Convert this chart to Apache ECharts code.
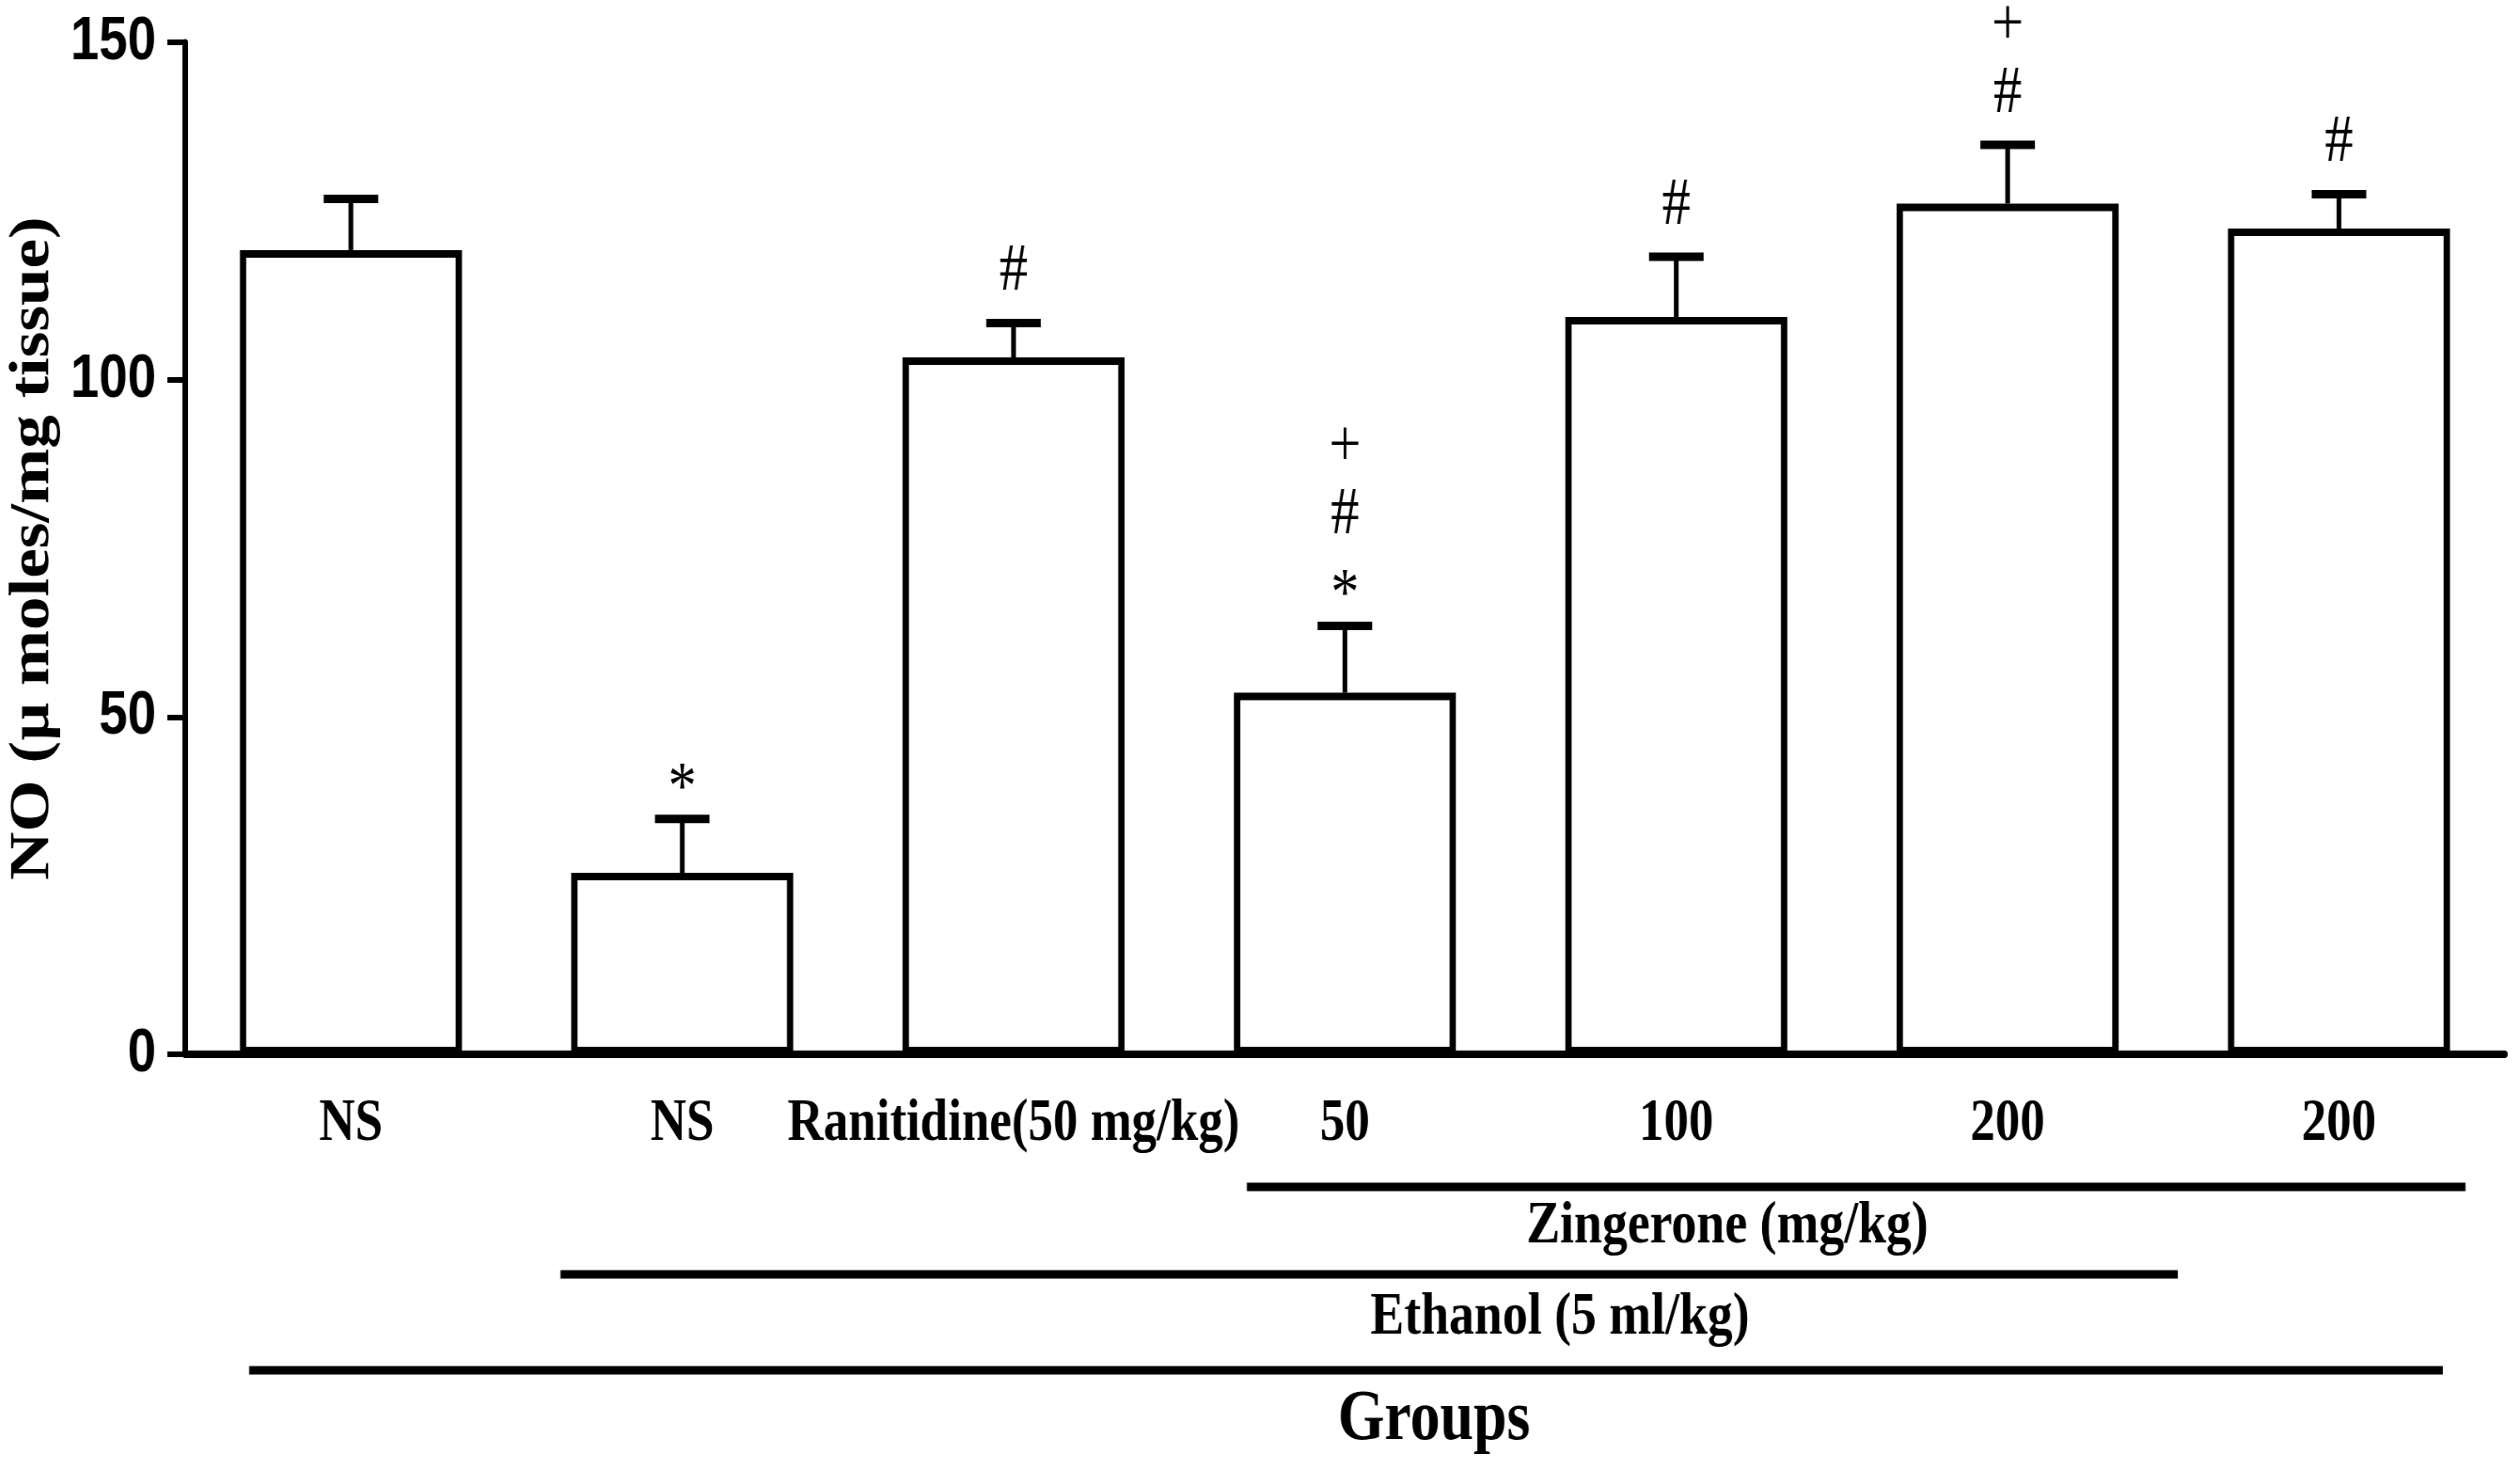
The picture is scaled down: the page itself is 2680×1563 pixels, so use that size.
<!DOCTYPE html>
<html>
<head>
<meta charset="utf-8">
<script src="https://cdn.jsdelivr.net/npm/echarts@6/dist/echarts.min.js"></script>
<style>
  html, body { margin: 0; padding: 0; background: #fff; overflow: hidden; width: 2680px; height: 1563px; }
  #chart { width: 3190px; height: 1563px; transform: scaleX(0.84); transform-origin: 0 0; }
</style>
</head>
<body>
<div id="chart"></div>
<script>
// ---- data ----
const categories = ['NS', 'NS', 'Ranitidine(50 mg/kg)', '50', '100', '200', '200'];
const means = [119.2, 26.9, 103.3, 53.6, 109.3, 126.1, 122.4];
const sem = [7.6, 8.0, 5.1, 9.9, 8.9, 8.7, 5.1];
const significance = [[], ['*'], ['#'], ['*', '#', '+'], ['#'], ['#', '+'], ['#']];
const yTicks = [0, 50, 100, 150];
const yTitle = 'NO (µ moles/mg tissue)';
const groupLabels = ['Zingerone (mg/kg)', 'Ethanol (5 ml/kg)', 'Groups'];

// the reference figure is horizontally condensed; the chart is drawn wide and squeezed
const S = 0.84;
const X = v => v / S;

const SERIF = '"Liberation Serif", "Times New Roman", serif';
const SANS = '"Liberation Sans", Arial, sans-serif';

const chart = echarts.init(document.getElementById('chart'));

const errData = categories.map((c, i) => [i, means[i], sem[i]]);
const sigData = categories.map((c, i) => [i, means[i] + sem[i]]);

const option = {
  backgroundColor: '#fff',
  animation: false,
  grid: { left: X(197), right: X(2680 - 2664), top: 45, bottom: 442, containLabel: false, outerBoundsMode: 'none' },
  xAxis: {
    type: 'category',
    data: categories,
    boundaryGap: true,
    axisLine: { show: true, lineStyle: { color: '#000', width: 8 } },
    axisTick: { show: false },
    axisLabel: {
      interval: 0,
      color: '#000',
      fontFamily: SERIF,
      fontWeight: 'bold',
      fontSize: 63,
      margin: 43
    },
    splitLine: { show: false }
  },
  yAxis: {
    type: 'value',
    min: yTicks[0],
    max: yTicks[yTicks.length - 1],
    interval: yTicks[1] - yTicks[0],
    axisLine: { show: true, lineStyle: { color: '#000', width: 7 } },
    axisTick: { show: true, length: X(19), lineStyle: { color: '#000', width: 6 } },
    splitLine: { show: false },
    axisLabel: {
      color: '#000',
      fontFamily: SANS,
      fontWeight: 'bold',
      fontSize: 65,
      margin: X(31)
    },
    name: yTitle,
    nameLocation: 'middle',
    nameRotate: 90,
    nameGap: 121,
    nameTextStyle: {
      color: '#000',
      fontFamily: SERIF,
      fontWeight: 'bold',
      fontSize: 71
    }
  },
  series: [
    {
      type: 'bar',
      data: means,
      barWidth: '67%',
      itemStyle: { color: '#fff', borderColor: '#000', borderWidth: 8 },
      z: 2
    },
    {
      type: 'custom',
      data: errData,
      encode: { x: 0, y: 1 },
      z: 3,
      renderItem: function (params, api) {
        const x = api.value(0), m = api.value(1), e = api.value(2);
        const p0 = api.coord([x, m]);
        const p1 = api.coord([x, m + e]);
        const half = X(29);
        return {
          type: 'group',
          children: [
            { type: 'line', shape: { x1: p0[0], y1: p0[1], x2: p1[0], y2: p1[1] },
              style: { stroke: '#000', lineWidth: 6 } },
            { type: 'line', shape: { x1: p1[0] - half, y1: p1[1], x2: p1[0] + half, y2: p1[1] },
              style: { stroke: '#000', lineWidth: 9 } }
          ]
        };
      }
    },
    {
      type: 'custom',
      data: sigData,
      encode: { x: 0, y: 1 },
      z: 4,
      renderItem: function (params, api) {
        const p = api.coord([api.value(0), api.value(1)]);
        const syms = significance[params.dataIndex];
        const corr = { '*': 16, '+': 6, '#': 4 };
        const children = [];
        let off = 0;
        syms.forEach(function (s, k) {
          off = (k === 0) ? (s === '*' ? 47 : 58) : off + 74;
          children.push({
            type: 'text',
            x: p[0],
            y: p[1] - off + (corr[s] || 0),
            style: {
              text: s,
              fill: '#000',
              fontFamily: SERIF,
              fontSize: 72,
              align: 'center',
              verticalAlign: 'middle'
            }
          });
        });
        return { type: 'group', children: children };
      }
    }
  ],
  graphic: [
    { type: 'line', shape: { x1: X(1326), y1: 1262, x2: X(2622), y2: 1262 }, style: { stroke: '#000', lineWidth: 9 } },
    { type: 'text', x: X(1837), y: 1304,
      style: { text: groupLabels[0], fill: '#000', fontFamily: SERIF, fontWeight: 'bold', fontSize: 64, align: 'center', verticalAlign: 'middle' } },
    { type: 'line', shape: { x1: X(596), y1: 1355, x2: X(2316), y2: 1355 }, style: { stroke: '#000', lineWidth: 9 } },
    { type: 'text', x: X(1659), y: 1401,
      style: { text: groupLabels[1], fill: '#000', fontFamily: SERIF, fontWeight: 'bold', fontSize: 64, align: 'center', verticalAlign: 'middle' } },
    { type: 'line', shape: { x1: X(265), y1: 1457, x2: X(2598), y2: 1457 }, style: { stroke: '#000', lineWidth: 9 } },
    { type: 'text', x: X(1525), y: 1510,
      style: { text: groupLabels[2], fill: '#000', fontFamily: SERIF, fontWeight: 'bold', fontSize: 76, align: 'center', verticalAlign: 'middle' } }
  ]
};

chart.setOption(option);
</script>
</body>
</html>
